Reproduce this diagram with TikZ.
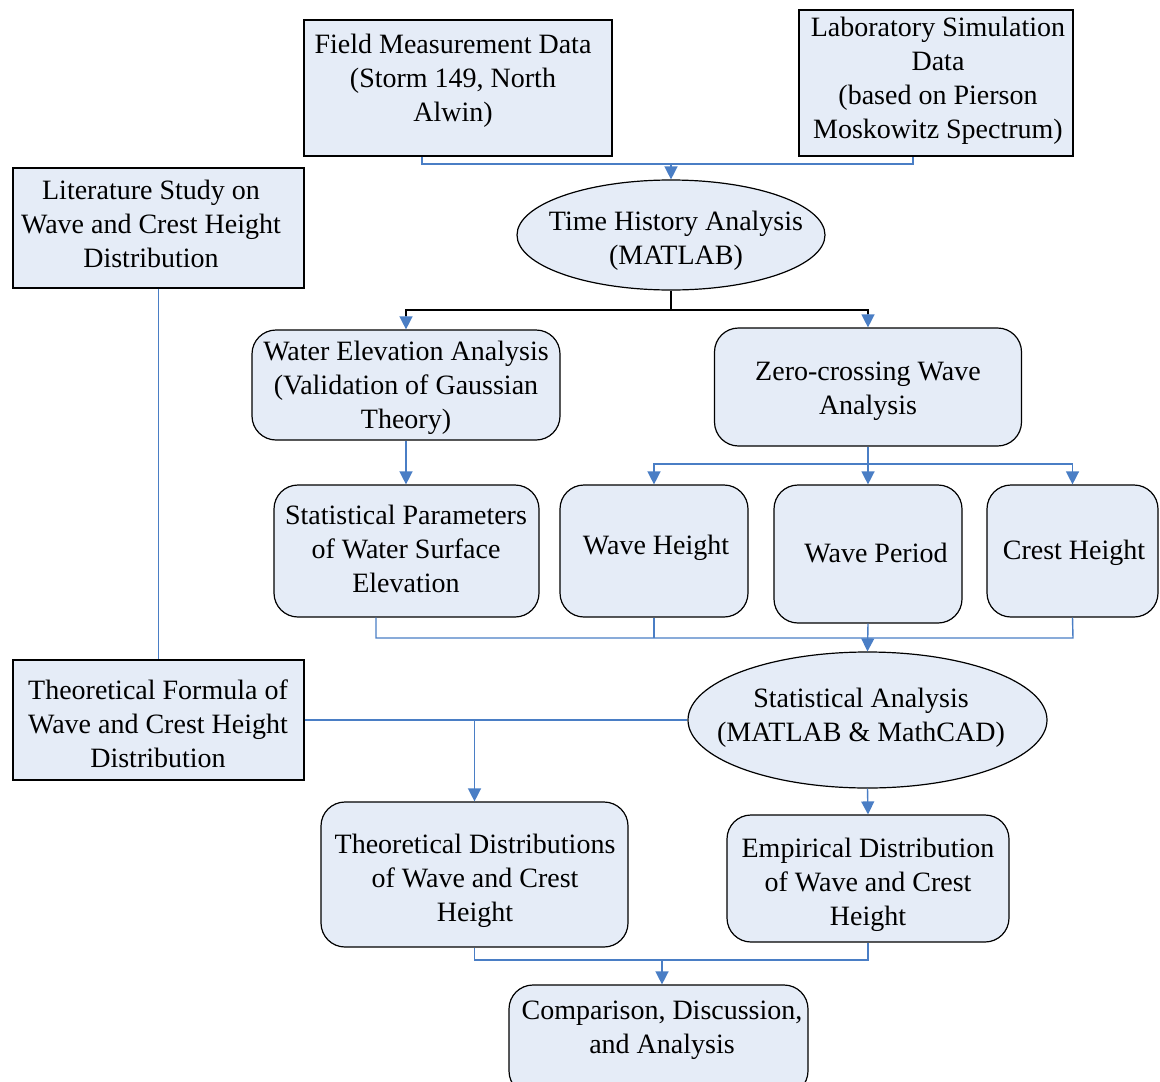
\documentclass[tikz,border=0pt]{standalone}
\usepackage{fontspec}
\setmainfont{Liberation Serif}
\usetikzlibrary{shapes.geometric,arrows.meta}
\definecolor{boxfill}{RGB}{229,236,247}
\definecolor{linkblue}{RGB}{74,126,197}
\tikzset{
  sharpbox/.style={draw=black,line width=1.2pt,fill=boxfill,rectangle,inner sep=0pt},
  roundbox/.style={draw=black,line width=1.2pt,fill=boxfill,rectangle,rounded corners=24pt,inner sep=0pt},
  ovalbox/.style={draw=black,line width=1.2pt,fill=boxfill,ellipse,inner sep=0pt},
  txt/.style={align=center,inner sep=0pt,font=\fontsize{28}{34}\selectfont},
  conn/.style={draw=linkblue,line width=1.4pt},
  arr/.style={conn,-{Triangle[length=13pt,width=13pt]}},
  blk/.style={draw=black,line width=1.2pt},
  blkarr/.style={draw=linkblue,line width=1.4pt,-{Triangle[length=13pt,width=13pt]}},
}
\begin{document}
\begin{tikzpicture}[x=1pt,y=-1pt]
\useasboundingbox (0,0) rectangle (1160,1082);
% shapes
\node[sharpbox,minimum width=308,minimum height=136] (field) at (458,88) {};
\node[sharpbox,minimum width=274,minimum height=146] (lab) at (936,83) {};
\node[sharpbox,minimum width=291,minimum height=120] (lit) at (158.5,228) {};
\node[ovalbox,minimum width=308,minimum height=110] (th) at (671,235) {};
\node[roundbox,minimum width=308,minimum height=110] (we) at (406,385) {};
\node[roundbox,minimum width=307,minimum height=118] (zc) at (868,387) {};
\node[roundbox,minimum width=265,minimum height=132] (sp) at (406.5,551) {};
\node[roundbox,minimum width=188,minimum height=132] (wh) at (654,551) {};
\node[roundbox,minimum width=188,minimum height=138] (wp) at (868,554) {};
\node[roundbox,minimum width=171,minimum height=132] (ch) at (1072.5,551) {};
\node[sharpbox,minimum width=291,minimum height=120] (tf) at (158.5,720) {};
\node[ovalbox,minimum width=359,minimum height=136] (sa) at (867.5,720) {};
\node[roundbox,minimum width=307,minimum height=145] (td) at (474.5,874.5) {};
\node[roundbox,minimum width=282,minimum height=127] (ed) at (868,878.5) {};
\node[roundbox,minimum width=299,minimum height=110] (cmp) at (658.5,1040) {};
% texts
\node[txt] (field-t) at (453,81) {Field Measurement Data\\(Storm 149, North\\Alwin)};
\node[txt] (lab-t) at (938,81) {Laboratory Simulation\\Data\\(based on Pierson\\Moskowitz Spectrum)};
\node[txt] (lit-t) at (151,224) {Literature Study on\\Wave and Crest Height\\Distribution};
\node[txt] (th-t) at (676,241) {Time History Analysis\\(MATLAB)};
\node[txt] (we-t) at (406,388) {Water Elevation Analysis\\(Validation of Gaussian\\Theory)};
\node[txt] (zc-t) at (868,391) {Zero-crossing Wave\\Analysis};
\node[txt] (sp-t) at (406,549) {Statistical Parameters\\of Water Surface\\Elevation};
\node[txt] (wh-t) at (656,548) {Wave Height};
\node[txt] (wp-t) at (876,553) {Wave Period};
\node[txt] (ch-t) at (1074,553) {Crest Height};
\node[txt] (tf-t) at (158,724) {Theoretical Formula of\\Wave and Crest Height\\Distribution};
\node[txt] (sa-t) at (861,718) {Statistical Analysis\\(MATLAB \& MathCAD)};
\node[txt] (td-t) at (475,881) {Theoretical Distributions\\of Wave and Crest\\Height};
\node[txt] (ed-t) at (868,885) {Empirical Distribution\\of Wave and Crest\\Height};
\node[txt] (cmp-t) at (662,1030) {Comparison, Discussion,\\and Analysis};
% connectors
\coordinate (b1) at (671,164);
\draw[conn] ([xshift=-36pt]field.south) |- (b1) -| ([xshift=-23pt]lab.south);
\draw[arr] (b1) -- (th.north);
\coordinate (b2) at (671,310);
\draw[blk] (th.south) -- (b2);
\draw[blk] (b2) -| ([yshift=12pt]we.north);
\draw[blk] (b2) -| ([yshift=12pt]zc.north);
\draw[blkarr] ([yshift=13pt]we.north) -- (we.north);
\draw[blkarr] ([yshift=13pt]zc.north) -- (zc.north);
\draw[arr] (we.south) -- (sp.north -| we.south);
\coordinate (b3) at (868,464);
\draw[conn] (zc.south) -- (b3);
\draw[arr] (b3) -| (wh.north);
\draw[arr] (b3) -- (wp.north);
\draw[arr] (b3) -| (ch.north);
\coordinate (b4l) at (376,638);
\coordinate (b4r) at (1073,638);
\draw[conn] ([xshift=-30.5pt]sp.south) -- (b4l) -- (b4r) -- (ch.south);
\draw[conn] (wh.south) -- (wh.south |- b4l);
\draw[arr] (wp.south) -- (sa.north);
\draw[conn] (lit.south) -- (tf.north);
\draw[conn] (tf.east) -- (sa.west);
\coordinate (b5) at (474.5,720);
\draw[arr] (b5) -- (td.north);
\draw[arr] (sa.south) -- (ed.north);
\coordinate (b6) at (662,960);
\draw[conn] (td.south) |- (b6);
\draw[conn] (ed.south) |- (b6);
\draw[arr] (b6) -- (b6 |- cmp.north);
\end{tikzpicture}
\end{document}
